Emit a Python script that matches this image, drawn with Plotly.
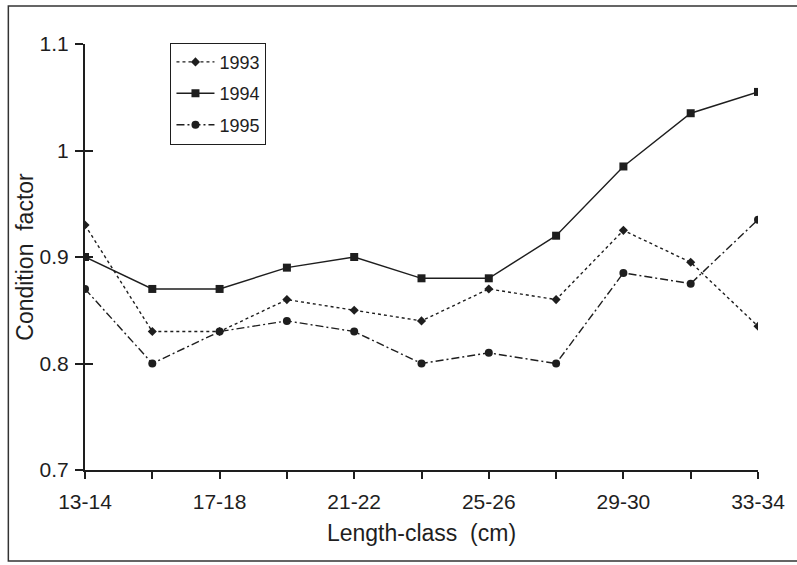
import plotly.graph_objects as go

# Length classes (cm) and condition factor per year
length_classes = ["13-14", "15-16", "17-18", "19-20", "21-22", "23-24",
                  "25-26", "27-28", "29-30", "31-32", "33-34"]
labelled_classes = ["13-14", "17-18", "21-22", "25-26", "29-30", "33-34"]

cf_1993 = [0.93, 0.83, 0.83, 0.86, 0.85, 0.84, 0.87, 0.86, 0.925, 0.895, 0.835]
cf_1994 = [0.90, 0.87, 0.87, 0.89, 0.90, 0.88, 0.88, 0.92, 0.985, 1.035, 1.055]
cf_1995 = [0.87, 0.80, 0.83, 0.84, 0.83, 0.80, 0.81, 0.80, 0.885, 0.875, 0.935]

y_ticks = [0.7, 0.8, 0.9, 1.0, 1.1]
y_ticktext = ["0.7", "0.8", "0.9", "1", "1.1"]

ink = "#1e1e1e"
font_family = "Liberation Sans, Arial, sans-serif"

fig = go.Figure()

series = [
    ("1993", cf_1993, "dot", "diamond", 7),
    ("1994", cf_1994, "solid", "square", 8),
    ("1995", cf_1995, "8px,3px,2px,3px", "circle", 8),
]
for name, vals, dash, symbol, size in series:
    fig.add_trace(go.Scatter(
        x=length_classes, y=vals, name=name, mode="lines+markers",
        legendgroup=name,
        line=dict(color=ink, width=1.4, dash=dash),
        marker=dict(symbol=symbol, size=size, color=ink),
    ))

# Inner half of the y ticks (ticks cross the axis line)
fig.add_trace(go.Scatter(x=[length_classes[0]], y=[None], yaxis="y2",
                         showlegend=False, hoverinfo="skip"))

fig.update_layout(
    width=797, height=565,
    margin=dict(l=85, r=36, t=44, b=95),
    paper_bgcolor="white", plot_bgcolor="white",
    font=dict(family=font_family, size=20, color=ink),
    showlegend=True,
    legend=dict(
        x=0.127, y=1.003, xanchor="left", yanchor="top",
        bordercolor=ink, borderwidth=1, bgcolor="white",
        traceorder="grouped", tracegroupgap=5, itemwidth=38,
        font=dict(size=18),
    ),
    xaxis=dict(
        type="category", categoryorder="array", categoryarray=length_classes,
        range=[0, len(length_classes) - 1],
        tickmode="array", tickvals=length_classes,
        ticktext=[c if c in labelled_classes else "" for c in length_classes],
        ticks="outside", ticklen=7, tickwidth=1.5, tickcolor=ink,
        showline=True, linecolor=ink, linewidth=2,
        showgrid=False, zeroline=False,
        tickfont=dict(size=21),
        ticklabelstandoff=5,
        title=dict(text="Length-class  (cm)", standoff=13, font=dict(size=23)),
    ),
    yaxis=dict(
        range=[0.7, 1.1], tickmode="array", tickvals=y_ticks, ticktext=y_ticktext,
        ticks="outside", ticklen=8, tickwidth=1.5, tickcolor=ink,
        showline=True, linecolor=ink, linewidth=2,
        showgrid=False, zeroline=False,
        tickfont=dict(size=21),
        ticklabelstandoff=2,
        title=dict(text="Condition  factor", standoff=0, font=dict(size=23)),
    ),
    yaxis2=dict(
        range=[0.7, 1.1], overlaying="y", side="left", anchor="x",
        tickmode="array", tickvals=y_ticks, showticklabels=False,
        ticks="inside", ticklen=8, tickwidth=1.5, tickcolor=ink,
        showline=False, showgrid=False, zeroline=False,
    ),
    shapes=[dict(
        type="rect", xref="paper", yref="paper",
        x0=(8 - 85) / 676, x1=(805 - 85) / 676,
        y0=(470 - 561) / 426, y1=(470 - 6) / 426,
        line=dict(color="#333333", width=1.5), fillcolor="rgba(0,0,0,0)",
        layer="below",
    )],
)

fig.write_html("out.html")
